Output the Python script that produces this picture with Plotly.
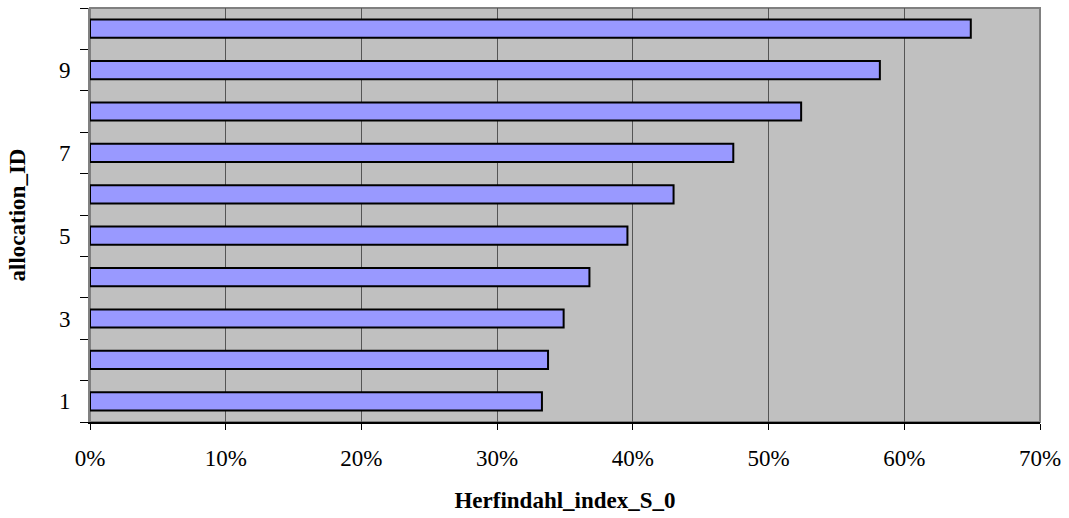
import plotly.graph_objects as go

allocation_id = [1, 2, 3, 4, 5, 6, 7, 8, 9, 10]
herfindahl = [0.333, 0.3375, 0.349, 0.368, 0.396, 0.430, 0.474, 0.524, 0.582, 0.649]
x_ticks = [0, 0.1, 0.2, 0.3, 0.4, 0.5, 0.6, 0.7]
x_tick_text = ["0%", "10%", "20%", "30%", "40%", "50%", "60%", "70%"]
y_ticks = [1, 3, 5, 7, 9]

font_family = "Liberation Serif, Times New Roman, serif"

fig = go.Figure(
    go.Bar(
        x=herfindahl,
        y=allocation_id,
        orientation="h",
        width=0.44,
        marker=dict(color="#9999FF", line=dict(color="black", width=2)),
    )
)

fig.update_layout(
    width=1069,
    height=518,
    margin=dict(l=90, r=24, t=8, b=96),
    paper_bgcolor="white",
    plot_bgcolor="#C0C0C0",
    showlegend=False,
    font=dict(family=font_family, size=23, color="black"),
    xaxis=dict(
        range=[0, 0.7],
        tickvals=x_ticks,
        ticktext=x_tick_text,
        showgrid=True,
        gridcolor="#555555",
        gridwidth=1,
        showline=True,
        linecolor="black",
        linewidth=1.5,
        ticks="outside",
        ticklen=6,
        tickcolor="black",
        ticklabelstandoff=9,
        zeroline=False,
        title=dict(text="<b>Herfindahl_index_S_0</b>", font=dict(size=23), standoff=22),
    ),
    yaxis=dict(
        range=[0.5, 10.5],
        tickvals=y_ticks,
        ticks="",
        ticklabelstandoff=13,
        showgrid=False,
        zeroline=False,
        showline=True,
        linecolor="#808080",
        linewidth=2,
        minor=dict(
            tickvals=[i + 0.5 for i in range(0, 11)],
            ticks="outside",
            ticklen=8,
            tickcolor="black",
            showgrid=False,
        ),
        title=dict(text="<b>allocation_ID</b>", font=dict(size=23), standoff=27),
    ),
    shapes=[
        dict(
            type="rect", xref="paper", yref="paper", x0=0, x1=1, y0=0, y1=1,
            line=dict(color="#808080", width=2), layer="below",
        )
    ],
)

fig.write_html("out.html")
